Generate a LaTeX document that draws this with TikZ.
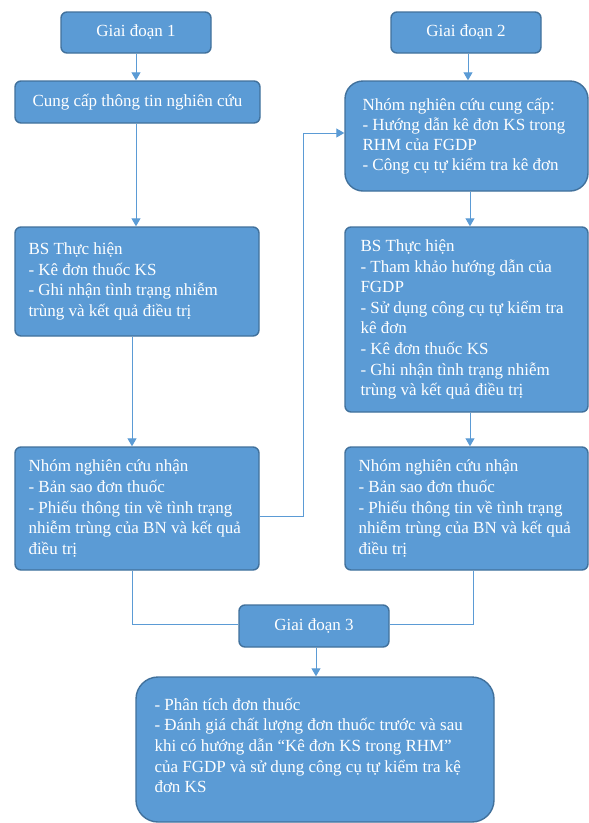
\documentclass[tikz,border=0pt]{standalone}
\usepackage{fontspec}
\setmainfont{Liberation Serif}
\usetikzlibrary{arrows.meta,calc}
\definecolor{boxfill}{HTML}{5B9BD5}
\definecolor{boxline}{HTML}{41719C}
\definecolor{conn}{HTML}{5B9BD5}
\begin{document}
\begin{tikzpicture}[x=1pt,y=1pt,
  box/.style={draw=boxline, line width=1.4pt, fill=boxfill, rounded corners=6pt, inner sep=0pt},
  bigbox/.style={box, rounded corners=18pt},
  txt/.style={text=white, inner sep=0pt, align=left, font=\fontsize{17}{20.6}\selectfont},
  arr/.style={draw=conn, line width=1pt, -{Triangle[width=9pt,length=8pt]}},
  lin/.style={draw=conn, line width=1pt}]
\useasboundingbox (0,0) rectangle (589,-823);
\fill[white] (0,0) rectangle (589,-823);

% left column
\node[box, minimum width=150, minimum height=41] (g1) at (136,-32.5) {};
\node[txt] (g1t) at (g1.center) {Giai đoạn 1};
\node[box, minimum width=245, minimum height=42] (cc) at (137.5,-102) {};
\node[txt] (cct) at (cc.center) {Cung cấp thông tin nghiên cứu};
\node[box, minimum width=244, minimum height=109] (bs1) at (137,-281.5) {};
\node[txt, anchor=west] (bs1t) at ([xshift=14]bs1.west) {BS Thực hiện\\- Kê đơn thuốc KS\\- Ghi nhận tình trạng nhiễm\\trùng và kết quả điều trị};
\node[box, minimum width=244, minimum height=123] (nnc1) at (137,-508.5) {};
\node[txt, anchor=west] (nnc1t) at ([xshift=14]nnc1.west) {Nhóm nghiên cứu nhận\\- Bản sao đơn thuốc\\- Phiếu thông tin về tình trạng\\nhiễm trùng của BN và kết quả\\điều trị};

% right column
\node[box, minimum width=150, minimum height=41] (g2) at (466,-32.5) {};
\node[txt] (g2t) at (g2.center) {Giai đoạn 2};
\node[bigbox, minimum width=243, minimum height=110] (ncc) at (466.5,-136) {};
\node[txt, anchor=west, font=\fontsize{17}{19.8}\selectfont] (ncct) at ([xshift=18]ncc.west) {Nhóm nghiên cứu cung cấp:\\- Hướng dẫn kê đơn KS trong\\RHM của FGDP\\- Công cụ tự kiểm tra kê đơn};
\node[box, minimum width=243, minimum height=185] (bs2) at (466.5,-319.5) {};
\node[txt, anchor=west] (bs2t) at ([xshift=16]bs2.west) {BS Thực hiện\\- Tham khảo hướng dẫn của\\FGDP\\- Sử dụng công cụ tự kiểm tra\\kê đơn\\- Kê đơn thuốc KS\\- Ghi nhận tình trạng nhiễm\\trùng và kết quả điều trị};
\node[box, minimum width=243, minimum height=123] (nnc2) at (466.5,-508.5) {};
\node[txt, anchor=west] (nnc2t) at ([xshift=14]nnc2.west) {Nhóm nghiên cứu nhận\\- Bản sao đơn thuốc\\- Phiếu thông tin về tình trạng\\nhiễm trùng của BN và kết quả\\điều trị};

% bottom
\node[box, minimum width=150, minimum height=42] (g3) at (314,-626) {};
\node[txt] (g3t) at (g3.center) {Giai đoạn 3};
\node[bigbox, rounded corners=22pt, minimum width=358, minimum height=145] (fin) at (315,-749.5) {};
\node[txt, anchor=west] (fint) at ([xshift=19,yshift=4]fin.west) {- Phân tích đơn thuốc\\- Đánh giá chất lượng đơn thuốc trước và sau\\khi có hướng dẫn “Kê đơn KS trong RHM”\\của FGDP và sử dụng công cụ tự kiểm tra kệ\\đơn KS};

% connectors
\draw[arr] (g1.south) -- (g1.south |- cc.north);
\draw[arr] (g1.south |- cc.south) -- (g1.south |- bs1.north);
\draw[arr] ([xshift=-5]bs1.south) -- ([xshift=-5]nnc1.north);
\coordinate (m1) at (303,-516);
\draw[arr] (nnc1.east |- m1) -- (m1) |- ([yshift=3]ncc.west);
\draw[arr] ([xshift=2]g2.south) -- ([xshift=2]g2.south |- ncc.north);
\draw[arr] ([xshift=3.5]ncc.south) -- ([xshift=3.5]bs2.north);
\draw[arr] ([xshift=3.5]bs2.south) -- ([xshift=3.5]nnc2.north);
\draw[lin] ([xshift=-5]nnc1.south) |- ([yshift=2]g3.west);
\draw[lin] ([xshift=6.5]nnc2.south) |- ([yshift=2]g3.east);
\draw[arr] ([xshift=2]g3.south) -- ([xshift=2]g3.south |- fin.north);
\end{tikzpicture}
\end{document}
